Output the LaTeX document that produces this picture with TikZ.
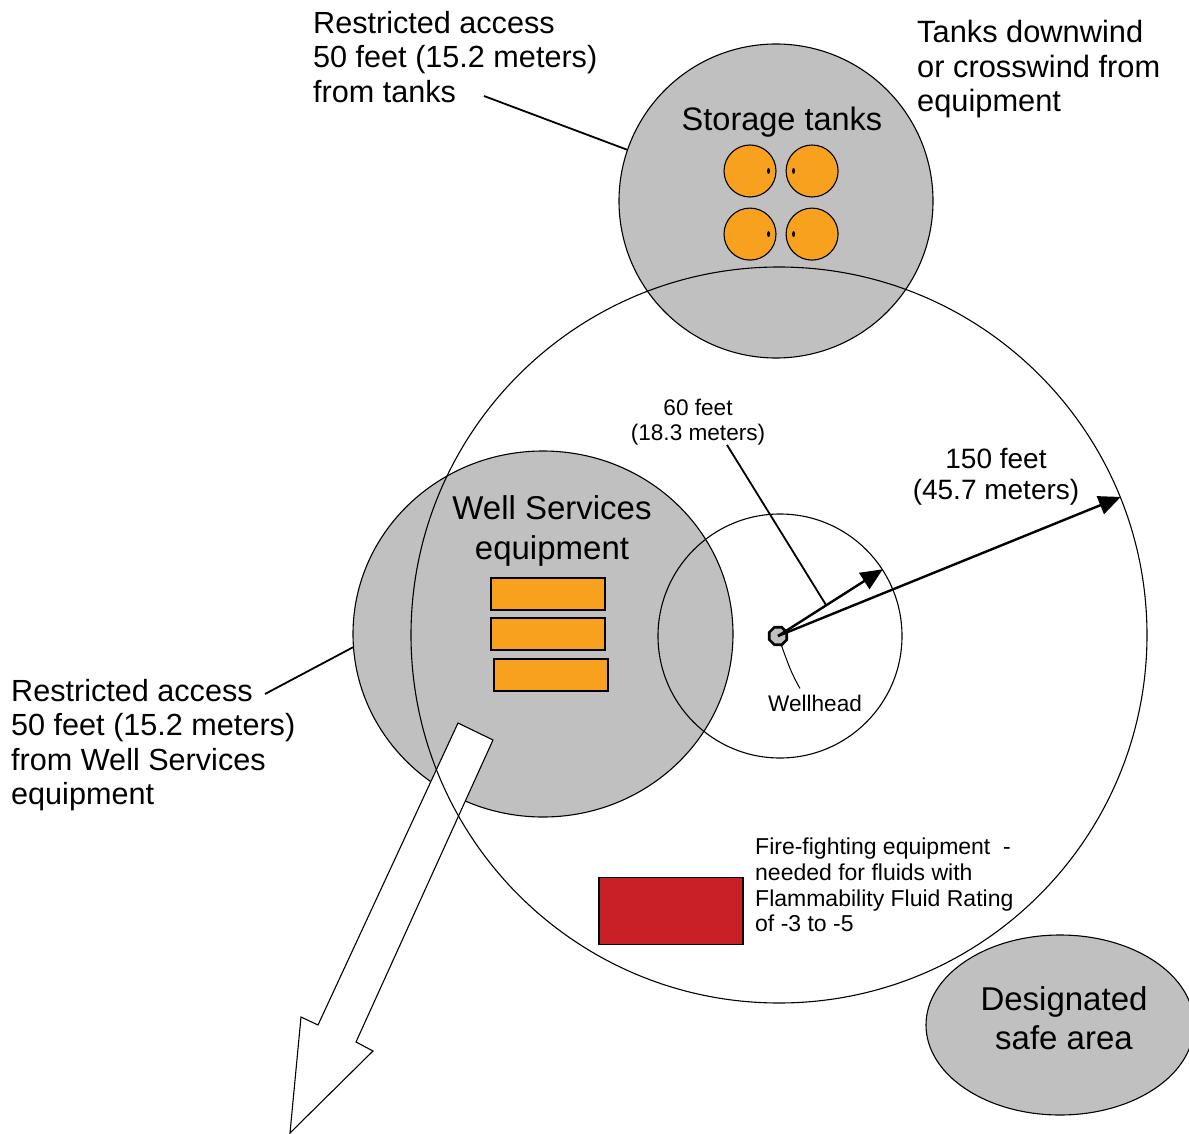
\documentclass[tikz,border=0pt]{standalone}
\usepackage{fontspec}
\setmainfont{Liberation Sans}
\usepackage{tikz}
\usetikzlibrary{arrows.meta,positioning,calc,shapes.geometric}
\definecolor{zonegray}{HTML}{C0C0C0}
\definecolor{tankorange}{HTML}{F7A11F}
\definecolor{firered}{HTML}{C91F26}
\newcommand{\fsz}[2]{\fontsize{#1}{#2}\selectfont}

\begin{document}
\begin{tikzpicture}[x=1pt, y=-1pt, >={Triangle[length=22pt,width=19pt]},
  zone/.style={circle, draw, line width=1.1pt, inner sep=0pt},
  tank/.style={circle, draw, line width=1.1pt, fill=tankorange, minimum size=52pt, inner sep=0pt},
  equip/.style={draw, line width=1.1pt, fill=tankorange, minimum width=114pt, minimum height=32pt, inner sep=0pt},
  vent/.style={ellipse, fill=black, minimum width=3pt, minimum height=6pt, inner sep=0pt},
  lbl/.style={inner sep=0pt, align=left},
  leader/.style={line width=1.8pt}]
  \useasboundingbox[fill=white] (0,0) rectangle (1189,1134);
  % restricted zones
  \node[zone, fill=zonegray, minimum size=314pt](tanks) at (776,201) {};
  \node[zone, ellipse, fill=zonegray, minimum width=380pt, minimum height=366pt](wse) at (543,634) {};
  \node[zone, ellipse, fill=zonegray, minimum width=268pt, minimum height=180pt](safe) at (1060,1025) {};
  % storage tanks
  \node[tank](t1) at (750,171) {};
  \node[tank, right=9pt of t1](t2) {};
  \node[tank, below=10pt of t1](t3) {};
  \node[tank, right=9pt of t3](t4) {};
  \node[vent] at ($(t1.east)+(-8,0)$) {};
  \node[vent] at ($(t2.west)+(8,0)$) {};
  \node[vent] at ($(t3.east)+(-8,0)$) {};
  \node[vent] at ($(t4.west)+(8,0)$) {};
  % well services equipment
  \node[equip](e1) at (548,594) {};
  \node[equip](e2) at (548,634) {};
  \node[equip](e3) at (551,675) {};
  % escape route
  \draw[line width=1.1pt, fill=white] (458,723) -- (493,740) -- (356,1042) -- (373,1051)
      -- (290,1133) -- (301,1017) -- (318,1025) -- cycle;
  % wellhead radii
  \node[zone, minimum size=736pt](big) at (779,635) {};
  \node[zone, minimum size=244pt](inner) at (780,636) {};
  \node[draw, line width=1.1pt, fill=firered, minimum width=144pt, minimum height=67pt](fire) at (671,911) {};
  \node[regular polygon, regular polygon sides=8, draw, line width=2.6pt, fill=zonegray,
      minimum size=19pt, inner sep=0pt](wh) at (778,636) {};
  \draw[->, line width=2.4pt](wh.center)--(inner.33);
  \draw[->, line width=2.4pt](wh.center)--(big.22);
  \coordinate (s60) at ($(wh.center)!0.46!(inner.33)$);
  % labels
  \node[lbl, anchor=north west, font=\fsz{30.6}{34.5}](tanklbl) at (313,11)
      {Restricted access\\50 feet (15.2 meters)\\from tanks};
  \node[lbl, anchor=north west, font=\fsz{30.8}{34.5}](windlbl) at (917,20)
      {Tanks downwind\\or crosswind from\\equipment};
  \node[inner sep=0pt, anchor=base, font=\fsz{32.5}{38}](tanktxt) at (782,131) {Storage tanks};
  \node[lbl, align=center, anchor=north, font=\fsz{33}{40}](wsetxt) at (552,495) {Well Services\\equipment};
  \node[lbl, align=center, anchor=north, font=\fsz{22.6}{24.5}](sixtylbl) at (698,399) {60 feet\\(18.3 meters)};
  \node[lbl, align=center, anchor=north, font=\fsz{28}{31}](onefiftylbl) at (996,448) {150 feet\\(45.7 meters)};
  \node[inner sep=0pt, anchor=base, font=\fsz{22.6}{25}](wllbl) at (815,711) {Wellhead};
  \node[lbl, anchor=north west, font=\fsz{30.6}{34.5}](wselbl) at (11,679)
      {Restricted access\\50 feet (15.2 meters)\\from Well Services\\equipment};
  \node[lbl, anchor=north west, font=\fsz{23}{25.7}](firelbl) at (755,838)
      {Fire-fighting equipment\ \ -\\needed for fluids with\\Flammability Fluid Rating\\of -3 to -5};
  \node[lbl, align=center, anchor=north, font=\fsz{33}{39}](safetxt) at (1064,986) {Designated\\safe area};
  % leaders
  \coordinate (tl) at (484,96);
  \coordinate (wl) at (265,694);
  \draw[leader](tl)--(tanks.161);
  \draw[leader](wl)--(wse.184);
  \draw[leader]($(sixtylbl.south)+(29,0)$)--(s60);
  \draw[line width=1pt](wh.290) to[out=-70,in=120] ($(wllbl.north)+(-15,-6)$);
\end{tikzpicture}
\end{document}
